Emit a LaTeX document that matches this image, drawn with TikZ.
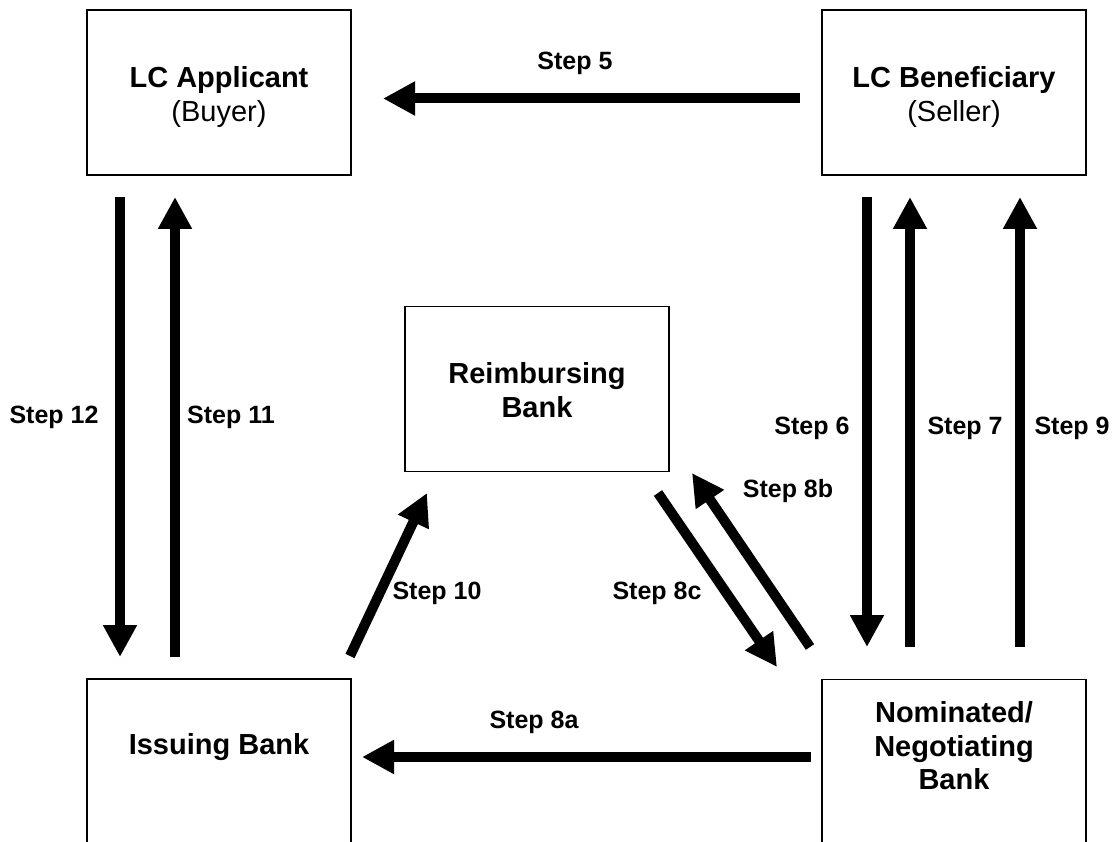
\documentclass[tikz,border=0pt]{standalone}
\usepackage{fontspec}
\setmainfont{Liberation Sans}
\usetikzlibrary{arrows.meta,calc}
\begin{document}
\begin{tikzpicture}[x=1pt,y=-1pt,
  box/.style={draw=black,line width=1.6pt,minimum width=264pt,minimum height=165pt,inner sep=0pt},
  boxtext/.style={align=center,font=\fontsize{29}{33.5}\selectfont\bfseries,inner sep=0pt},
  flow/.style={line width=10pt,-{Triangle[length=32pt,width=32pt]}},
  steplbl/.style={font=\fontsize{25}{28}\selectfont\bfseries,inner sep=0pt}]
\useasboundingbox (0,0) rectangle (1113,842);
% boxes
\node[box] (app) at (219,92.5) {};
\node[box] (ben) at (954,92.5) {};
\node[box] (reim) at (537,389) {};
\node[box] (iss) at (219,761.5) {};
\node[box] (nom) at (954,762) {};
% box texts
\node[boxtext] (appt) at (219,97) {LC Applicant\\\mdseries(Buyer)};
\node[boxtext] (bent) at (954,97) {LC Beneficiary\\\mdseries(Seller)};
\node[boxtext] (reimt) at (537,390) {Reimbursing\\Bank};
\node[boxtext] (isst) at (219,747) {Issuing Bank};
\node[boxtext] (nomt) at (954,746) {Nominated/\\Negotiating\\Bank};
% connector end points
\coordinate (s5a) at (800,98.5);  \coordinate (s5b) at (383,98.5);
\coordinate (s12a) at (120,197);  \coordinate (s12b) at (120,657);
\coordinate (s11a) at (175,657);  \coordinate (s11b) at (175,197);
\coordinate (s6a) at (867,197);   \coordinate (s6b) at (867,647);
\coordinate (s7a) at (910,647);   \coordinate (s7b) at (910,197);
\coordinate (s9a) at (1020,647);  \coordinate (s9b) at (1020,197);
\coordinate (s8aa) at (811,757);  \coordinate (s8ab) at (362,757);
\coordinate (s10a) at (350,656);  \coordinate (s10b) at (427,493);
\coordinate (s8ca) at (658,493);  \coordinate (s8cb) at (777,667);
\coordinate (s8ba) at (810,647);  \coordinate (s8bb) at (692,473);
% connectors
\draw[flow] (s5a) -- (s5b);
\draw[flow] (s12a) -- (s12b);
\draw[flow] (s11a) -- (s11b);
\draw[flow] (s6a) -- (s6b);
\draw[flow] (s7a) -- (s7b);
\draw[flow] (s9a) -- (s9b);
\draw[flow] (s8aa) -- (s8ab);
\draw[flow] (s10a) -- (s10b);
\draw[flow] (s8ca) -- (s8cb);
\draw[flow] (s8ba) -- (s8bb);
% labels
\node[steplbl] (l5) at (575,63) {Step 5};
\node[steplbl] (l12) at (54,417) {Step 12};
\node[steplbl] (l11) at (231,417) {Step 11};
\node[steplbl] (l6) at (812,428) {Step 6};
\node[steplbl] (l7) at (965,428) {Step 7};
\node[steplbl] (l9) at (1072,428) {Step 9};
\node[steplbl] (l8b) at (788,491) {Step 8b};
\node[steplbl] (l10) at (437,593) {Step 10};
\node[steplbl] (l8c) at (657,593) {Step 8c};
\node[steplbl] (l8a) at (534,722) {Step 8a};
\end{tikzpicture}
\end{document}
